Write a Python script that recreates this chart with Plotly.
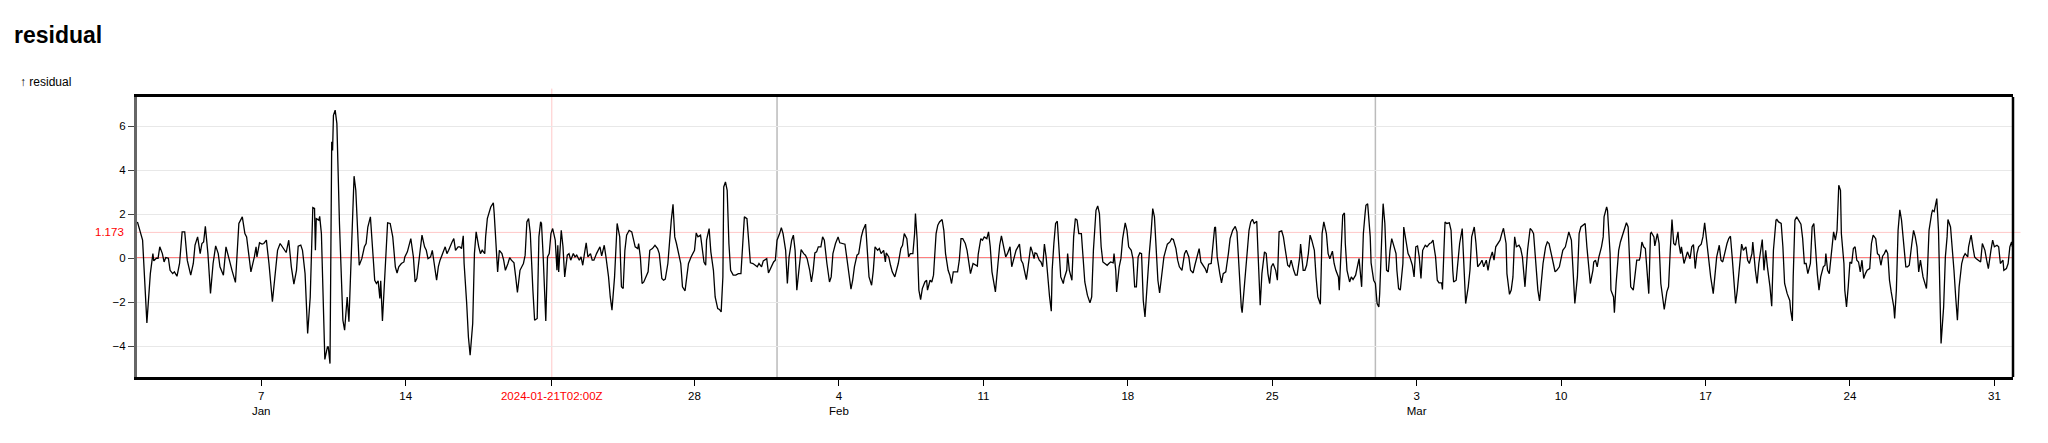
import pandas as pd
import plotly.graph_objects as go

START = pd.Timestamp("2024-01-01T00:00:00")

# (hours since START, residual), period by period
jan_early = [(0,1.65),(6,0.82),(11,-2.94),(15,-0.70),(18,0.21),(19,-0.12),(22,0.0),(24,0.0),(26,0.52),(29,0.21),
 (31,-0.17),(33,0.03),(36,0.0),(38,-0.55),(41,-0.70),(43,-0.62),(46,-0.82),(49,-0.24),(52,1.20),(55,1.20),
 (58,-0.10),(62,-0.77),(65,-0.24),(67,0.60),(70,0.97),(73,0.21),(75,0.67),(77,0.74),(79,1.45),(82,0.21),
 (85,-1.60),(88,-0.24),(91,0.56),(94,0.21),(96,-0.39),(100,-0.77),(103,0.52),(106,0.0),(110,-0.55),(114,-1.10),
 (118,1.58),(122,1.88),(125,1.12),(127,0.97),(129,0.36),(132,-0.62),(136,0.06),(138,0.52),(139,0.06),(142,0.70),
 (145,0.64),(147,0.67),(150,0.82),(153,-0.24),(157,-1.98),(160,-0.85),(163,0.36),(166,0.67),(170,0.44),(173,0.26),
 (176,0.82),(179,-0.39),(182,-1.18),(185,-0.55),(187,0.55),(190,0.60),(192,0.36),(195,-0.70),(198,-3.42),(201,-1.76),
 (204,2.30),(206,2.26),(207,0.36),(208,1.80),(211,1.73),(212,1.90),(214,1.12),(216,-2.06),(218,-4.60),(221,-4.03),
 (222,-4.03),(224,-4.79),(226,5.29),(227,4.90),(228,6.50),(230,6.73),(232,6.12),(235,1.58),(239,-2.82),(241,-3.27)]

jan_mid = [(244,-1.76),(246,-2.89),(249,0.36),(252,3.73),(254,3.09),(258,-0.32),(261,-0.02),(264,0.52),(266,0.67),
 (268,1.42),(271,1.88),(273,0.82),(276,-1.00),(278,-1.15),(280,-1.03),(282,-1.83),(283,-1.03),(285,-2.85),(288,-0.39),
 (291,1.61),(294,1.58),(297,0.97),(300,-0.39),(302,-0.67),(304,-0.39),(307,-0.24),(310,-0.17),(311,0.06),(314,0.29),
 (318,0.89),(321,0.06),(323,-1.08),(325,-0.92),(328,0.21),(331,1.05),(334,0.52),(336,0.36),(338,-0.02),(341,0.06),
 (343,0.36),(345,-0.24),(348,-1.00),(350,-0.39),(352,-0.09),(355,0.21),(358,0.52),(360,0.21),(362,0.36),(366,0.74),
 (368,0.89),(370,0.36),(373,0.52),(375,0.52),(377,0.44),(379,1.02),(380,-0.24),(383,-2.06),(385,-3.58),(387,-4.41),
 (390,-2.97),(392,0.21),(394,1.20),(397,0.52),(399,0.21),(401,0.36),(404,0.21),(405,0.97),(407,1.80),(411,2.33),
 (414,2.52),(415,2.03),(417,0.82),(419,-0.62),(421,0.36),(424,0.21),(426,-0.09),(428,-0.55),(431,-0.24),(433,0.03),
 (435,-0.09),(438,-0.21),(440,-0.85),(442,-1.56),(445,-0.55),(447,-0.39),(449,-0.24),(451,0.14),(453,1.65),(455,1.80),
 (457,1.12),(460,-1.45),(462,-2.82),(465,-2.74),(467,0.97),(469,1.65),(470,1.58),(472,0.06),(475,-2.85),(477,0.06),
 (479,0.21),(481,1.12),(483,1.35),(486,0.82),(488,-0.55)]

jan_late = [(489,0.59),(490,-0.62),(493,1.27),(495,0.52),(497,-0.85),(500,0.14),(502,0.21),(504,-0.09),(507,0.21),
 (509,0.06),(511,0.14),(514,-0.09),(516,0.06),(518,-0.32),(520,0.21),(522,0.70),(524,0.06),(527,0.21),(529,-0.09),
 (531,-0.09),(534,0.21),(536,0.39),(538,0.52),(540,0.11),(543,0.59),(545,0.06),(548,-0.85),(550,-1.76),(552,-2.36),
 (555,-0.85),(557,1.27),(558,1.58),(561,0.97),(563,-1.30),(565,-1.38),(567,0.36),(569,1.05),(572,1.27),(575,1.20),
 (577,0.89),(579,0.52),(582,0.44),(583,0.67),(585,0.06),(587,-1.15),(589,-1.08),(592,-0.77),(594,-0.62),(596,0.36),
 (599,0.44),(602,0.59),(605,0.44),(607,0.21),(610,-0.92),(612,-1.00),(614,-0.95),(617,-0.24),(619,0.82),(621,1.73),
 (623,2.45),(625,0.97),(627,0.67),(630,0.14),(632,-0.24),(634,-1.30),(637,-1.48),(639,-0.85),(641,-0.24),(644,0.06),
 (648,0.36),(650,1.15),(652,0.97),(655,1.05),(657,0.44),(659,-0.17),(661,-0.32),(662,0.82),(665,1.35),(667,0.29),
 (670,-0.55),(672,-1.76),(675,-2.29),(677,-2.33),(679,-2.44),(681,-0.85),(682,3.24),(684,3.47),(686,3.09),(688,0.67),
 (690,-0.55),(693,-0.77),(696,-0.77),(699,-0.70),(702,-0.70),(704,0.52),(706,1.88),(709,1.80),(711,0.82),(713,-0.21),
 (716,-0.24),(719,-0.32),(721,-0.39),(723,-0.24),(726,-0.39),(728,-0.12),(732,-0.02)]

feb_early = [(734,-0.67),(737,-0.39),(740,-0.17),(742,-0.09),(744,0.82),(747,1.12),(749,1.39),(751,1.12),(754,0.36),
 (756,-1.15),(758,0.06),(761,0.82),(763,1.05),(765,0.36),(767,-1.45),(769,-0.70),(772,0.39),(775,0.21),(777,0.14),
 (779,-0.02),(782,-0.55),(784,-1.08),(786,-0.55),(788,0.24),(790,0.29),(792,0.52),(795,0.52),(797,0.97),(799,0.82),
 (802,-0.24),(805,-1.08),(807,-0.85),(809,0.21),(812,0.67),(815,0.97),(817,0.70),(820,0.67),(823,0.64),(825,0.06),
 (827,-0.62),(830,-1.41),(832,-1.00),(834,-0.39),(837,0.14),(839,0.21),(842,0.97),(844,1.27),(847,1.55),(849,0.52),
 (851,-0.85),(854,-1.23),(856,-0.55),(858,0.52),(861,0.36),(863,0.44),(865,0.21),(868,0.36),(870,-0.17),(871,0.24),
 (874,0.06),(876,-0.32),(878,-0.62),(881,-0.85),(883,-0.55),(885,-0.24),(888,0.44),(890,0.59),(892,1.12),(895,0.89),
 (897,0.06),(899,0.21),(902,0.21),(904,1.12),(905,2.03),(907,0.82),(909,-1.45),(911,-1.88),(913,-1.38),(916,-1.08),
 (918,-1.00),(919,-1.45),(922,-1.00),(924,-1.08),(926,-0.77),(929,1.12),(931,1.50),(933,1.65),(936,1.76),(938,1.27),
 (940,0.21),(943,-0.55),(945,-0.77),(947,-1.15),(949,-0.62),(951,-0.62),(954,-0.62),(956,-0.09),(958,0.89),(960,0.89),
 (963,0.67),(965,0.36),(967,-0.09),(969,-0.70),(972,-0.24)]

feb_mid = [(977,-0.36),(978,0.18),(981,0.89),(983,0.82),(985,0.97),(988,0.89),(990,1.20),(992,0.52),(994,-0.62),
 (996,-1.08),(998,-1.53),(1001,-0.24),(1003,0.59),(1005,1.02),(1008,0.52),(1010,0.06),(1012,0.21),(1015,0.52),
 (1017,-0.39),(1019,-0.09),(1022,0.36),(1026,0.64),(1028,-0.09),(1030,-0.24),(1032,-0.55),(1034,-0.97),(1036,-0.39),
 (1039,0.52),(1041,0.29),(1043,-0.02),(1044,0.24),(1046,0.21),(1049,-0.09),(1051,-0.17),(1053,-0.39),(1055,0.64),
 (1057,0.06),(1060,-1.45),(1061,-1.76),(1063,-2.41),(1064,-0.55),(1066,0.67),(1068,1.58),(1070,1.68),(1073,-0.62),
 (1074,-0.85),(1077,-1.15),(1078,-0.92),(1081,-0.55),(1082,0.21),(1084,-0.55),(1087,-1.00),(1089,0.97),(1091,1.80),
 (1093,1.73),(1095,1.12),(1098,1.12),(1100,-0.09),(1102,-1.08),(1105,-1.68),(1108,-2.03),(1110,-1.76),(1112,0.36),
 (1115,2.18),(1117,2.38),(1119,2.03),(1121,0.52),(1123,-0.17),(1125,-0.24),(1128,-0.32),(1130,-0.24),(1132,-0.17),
 (1135,-0.21),(1136,0.21),(1138,-0.55),(1139,-1.53),(1142,-0.39),(1144,-0.02),(1146,0.89),(1149,1.61),(1151,1.27),
 (1153,0.52),(1156,0.36),(1158,-0.02),(1160,-1.30),(1162,-1.30),(1164,0.06),(1166,0.24),(1168,0.21),(1170,-1.92),
 (1172,-2.67),(1174,-1.30),(1177,0.21),(1179,1.12),(1181,2.26),(1183,1.88),(1185,0.36),(1187,-1.00),(1189,-1.58),
 (1191,-1.00),(1194,0.06),(1196,0.36),(1198,0.64),(1201,0.74),(1203,0.89),(1205,0.85),(1208,0.44),(1210,-0.09),
 (1212,-0.39),(1215,-0.55),(1216,-0.32),(1218,0.21),(1220,0.36)]

feb_late = [(1223,0.06),(1225,-0.55),(1228,-0.67),(1230,-0.32),(1232,-0.02),(1235,0.44),(1237,-0.17),(1239,-0.27),
 (1242,-0.47),(1244,-0.67),(1246,-0.27),(1249,-0.24),(1251,0.59),(1253,1.39),(1254,1.42),(1256,0.06),(1259,-0.70),
 (1261,-1.12),(1263,-0.70),(1266,-0.62),(1269,0.21),(1271,0.89),(1274,1.27),(1277,1.45),(1279,1.20),(1281,-0.39),
 (1284,-2.21),(1285,-2.48),(1287,-1.45),(1290,0.06),(1293,1.27),(1295,1.65),(1297,1.77),(1299,1.58),(1302,1.68),
 (1304,-0.24),(1306,-2.14),(1308,-0.70),(1311,0.29),(1313,0.21),(1315,-0.70),(1317,-1.15),(1319,-0.39),(1321,-0.24),
 (1324,-0.55),(1326,-1.00),(1328,1.20),(1331,1.24),(1333,0.97),(1335,0.44),(1338,-0.32),(1340,-0.39),(1342,-0.09),
 (1345,-0.55),(1347,-0.77),(1349,-0.77),(1352,0.06),(1353,0.64),(1356,-0.55),(1358,-0.55),(1360,-0.32),(1362,0.21),
 (1364,1.05),(1366,0.82),(1369,0.36),(1371,-0.85),(1373,-1.76),(1376,-2.09),(1378,1.12),(1380,1.65),(1383,1.12),
 (1385,0.21),(1387,-0.02),(1390,0.32),(1392,-0.24),(1394,-0.55),(1397,-0.85),(1398,-1.45),(1400,0.06),(1402,1.95),
 (1404,2.06),(1405,0.67),(1407,-0.55),(1410,-1.08),(1412,-0.85),(1414,-0.97),(1417,-0.77),(1419,-0.39),(1421,-0.02),
 (1424,-1.30),(1426,1.12),(1428,2.03),(1429,2.41),(1431,2.48),(1434,0.97),(1435,-0.21),(1438,-1.00),(1440,-1.15),
 (1442,-2.06),(1444,-2.21),(1445,-1.61),(1448,1.58),(1449,2.48),(1451,1.58),(1453,-0.55),(1455,-0.62),(1457,0.36),
 (1459,0.89),(1462,0.52),(1464,0.21)]

mar_early = [(1465,-0.55),(1467,-1.38),(1469,-1.45),(1472,-0.24),(1473,1.42),(1476,0.67),(1478,0.21),(1480,0.06),
 (1483,-0.32),(1485,-0.85),(1487,0.52),(1489,0.56),(1491,0.06),(1493,-0.92),(1495,0.36),(1498,0.59),(1500,0.52),
 (1503,0.67),(1505,0.70),(1507,0.82),(1510,0.06),(1512,-1.00),(1514,-1.12),(1517,-1.12),(1518,-1.42),(1521,1.65),
 (1523,1.58),(1526,1.61),(1528,1.27),(1530,-0.55),(1531,-1.08),(1534,-1.00),(1536,-0.09),(1538,0.67),(1541,1.35),
 (1543,-0.24),(1545,-2.06),(1548,-1.30),(1550,-0.55),(1552,0.97),(1555,1.42),(1557,0.67),(1559,-0.39),(1562,-0.24),
 (1564,-0.09),(1566,-0.39),(1569,-0.09),(1571,-0.55),(1573,-0.09),(1576,0.29),(1578,-0.09),(1580,0.52),(1583,0.74),
 (1585,0.82),(1587,1.12),(1589,1.36),(1592,0.67),(1593,-0.70),(1596,-1.64),(1598,-1.45),(1600,-0.85),(1602,0.97),
 (1604,0.52),(1607,0.59),(1609,0.44),(1611,0.06),(1614,-1.30),(1615,-0.67),(1617,0.36),(1620,1.35),(1622,1.27),
 (1624,1.12),(1627,-0.47),(1629,-1.45),(1631,-1.94),(1633,-1.00),(1635,-0.24),(1638,0.52),(1640,0.74),(1642,0.67),
 (1644,0.36),(1647,-0.24),(1649,-0.62),(1651,-0.55),(1654,-0.39),(1656,0.06),(1658,0.36),(1661,0.52),(1663,0.89),
 (1665,1.20),(1668,0.82),(1670,-0.85),(1672,-2.06),(1675,-0.85),(1677,1.12),(1679,1.42),(1682,1.50),(1684,1.58),
 (1686,0.52),(1689,-0.77),(1690,-1.15),(1693,-0.55),(1694,-0.17),(1696,-0.09),(1698,-0.39),(1700,0.06),(1703,0.52),
 (1705,0.97),(1706,1.88)]

mar_mid = [(1709,2.33),(1710,2.18),(1713,0.21),(1714,-1.45),(1717,-1.76),(1718,-2.48),(1720,-1.15),(1723,0.36),
 (1725,0.74),(1727,0.97),(1730,1.35),(1732,1.61),(1734,1.42),(1736,-0.39),(1737,-1.30),(1740,-1.45),(1742,-0.85),
 (1744,-0.09),(1747,-0.09),(1748,0.06),(1750,0.74),(1752,0.52),(1754,0.44),(1756,-0.55),(1758,-1.61),(1760,1.12),
 (1761,1.17),(1764,0.97),(1765,0.56),(1768,1.12),(1770,0.67),(1772,-1.15),(1775,-2.06),(1776,-2.33),(1779,-1.53),
 (1781,-1.30),(1783,0.36),(1785,1.76),(1787,0.67),(1789,0.59),(1792,1.20),(1793,0.67),(1795,0.21),(1796,0.52),
 (1799,-0.24),(1801,-0.02),(1803,0.29),(1806,-0.02),(1808,0.52),(1810,0.62),(1812,-0.47),(1814,0.21),(1816,0.52),
 (1819,0.64),(1821,0.97),(1823,1.61),(1826,0.52),(1828,0.06),(1830,-0.85),(1833,-1.61),(1835,-0.70),(1837,0.06),
 (1840,0.59),(1842,-0.09),(1844,-0.17),(1847,0.36),(1849,0.67),(1851,0.89),(1853,1.00),(1855,0.06),(1858,-1.61),
 (1859,-2.06),(1861,-1.45),(1864,-0.24),(1866,0.64),(1868,0.36),(1871,0.52),(1873,-0.09),(1875,-0.24),(1878,0.21),
 (1879,0.74),(1882,-0.55),(1884,-1.15),(1886,-0.24),(1888,0.36),(1890,0.85),(1892,-0.55),(1894,0.36),(1896,-0.39),
 (1899,-1.30),(1901,-2.18),(1903,0.36),(1906,1.73),(1907,1.76),(1909,1.65),(1912,1.58),(1914,0.52),(1916,-1.15),
 (1919,-1.61),(1922,-1.92),(1923,-2.36),(1925,-2.85),(1926,-0.85),(1928,1.73),(1930,1.88),(1933,1.65),(1935,1.55),
 (1937,0.89),(1939,-0.24),(1941,-0.24),(1943,-0.70),(1946,-0.24),(1948,1.42),(1950,1.58)]

mar_late = [(1951,0.97),(1954,-0.70),(1956,-1.45),(1958,-0.85),(1961,-0.39),(1963,-0.32),(1964,0.21),(1966,-0.55),
 (1968,-0.70),(1971,0.52),(1973,1.20),(1975,0.82),(1977,1.27),(1979,3.32),(1981,3.09),(1982,1.12),(1985,-0.24),
 (1986,-1.45),(1988,-2.21),(1990,-1.30),(1992,-0.17),(1994,-0.24),(1996,0.44),(1998,0.52),(2000,-0.09),(2002,-0.17),
 (2004,-0.62),(2006,-0.09),(2008,-0.92),(2010,-0.70),(2012,-0.55),(2015,-0.47),(2017,0.67),(2019,1.05),(2022,0.89),
 (2024,0.21),(2026,0.14),(2028,-0.32),(2030,0.09),(2032,0.21),(2034,0.39),(2036,0.21),(2038,-1.00),(2040,-1.53),
 (2043,-2.21),(2044,-2.74),(2046,-1.45),(2048,1.27),(2050,2.20),(2052,1.73),(2054,0.82),(2057,-0.39),(2059,-0.39),
 (2061,-0.32),(2064,0.67),(2066,1.27),(2068,0.97),(2070,0.52),(2072,-0.62),(2074,-0.09),(2077,-0.85),(2079,-1.15),
 (2081,-1.38),(2082,-0.70),(2084,1.27),(2087,2.03),(2088,2.18),(2090,2.12),(2092,2.48),(2093,2.71),(2095,1.27),
 (2096,-0.70),(2098,-3.88),(2101,-2.21),(2103,0.06),(2105,0.97),(2106,1.76),(2109,1.42),(2111,0.52),(2113,-0.55),
 (2115,-1.76),(2117,-2.82),(2119,-1.30),(2122,-0.24),(2124,0.06),(2126,0.21),(2129,0.06),(2130,0.52),(2132,0.89),
 (2133,1.05),(2135,0.52),(2137,0.06),(2139,-0.02),(2142,-0.09),(2144,-0.17),(2146,0.67),(2149,0.36),(2151,-0.09),
 (2153,-0.47),(2156,0.36),(2158,0.82),(2160,0.52),(2163,0.59),(2165,0.52),(2167,-0.24),(2170,-0.09),(2171,-0.55),
 (2174,-0.47),(2176,-0.24),(2178,0.52),(2180,0.74),(2181,0.52)]

THRESHOLD = 1.173
POINTER_TIME = "2024-01-21T02:00:00"
POINTER_LABEL = "2024-01-21T02:00Z"
MONTH_MARKS = ["2024-02-01", "2024-03-01"]
X_TICKS = ["2024-01-07", "2024-01-14", POINTER_TIME, "2024-01-28", "2024-02-04", "2024-02-11",
           "2024-02-18", "2024-02-25", "2024-03-03", "2024-03-10", "2024-03-17", "2024-03-24", "2024-03-31"]
X_TEXT = ["7<br>Jan", "14", "<span style='color:red'>" + POINTER_LABEL + "</span>", "28", "4<br>Feb", "11",
          "18", "25", "3<br>Mar", "10", "17", "24", "31"]
Y_TICKS = [-4, -2, 0, 2, 4, 6]

pts = jan_early + jan_mid + jan_late + feb_early + feb_mid + feb_late + mar_early + mar_mid + mar_late
xs = [START + pd.Timedelta(hours=h) for h, _ in pts]
ys = [v for _, v in pts]

FONT = "Liberation Sans, Arial, Helvetica, sans-serif"

# page body has a small margin, so the figure is sized to fit inside it
W, H = 2040, 435
ML, MR, MT, MB = 129, 35, 89, 66
PW, PH = W - ML - MR, H - MT - MB

fig = go.Figure()
fig.add_trace(go.Scatter(x=xs, y=ys, mode="lines", line=dict(color="black", width=1.3),
                         hoverinfo="skip", showlegend=False))

shapes = []
shapes.append(dict(type="line", xref="paper", x0=0, x1=1, yref="y", y0=0, y1=0,
                   line=dict(color="red", width=1.5), layer="between"))
shapes.append(dict(type="line", xref="paper", x0=0, x1=1.004, yref="y", y0=THRESHOLD, y1=THRESHOLD,
                   line=dict(color="rgba(255,0,0,0.22)", width=1), layer="between"))
shapes.append(dict(type="line", xref="x", x0=POINTER_TIME, x1=POINTER_TIME, yref="paper", y0=0, y1=1.03,
                   line=dict(color="rgba(255,0,0,0.22)", width=1), layer="between"))
for m in MONTH_MARKS:
    shapes.append(dict(type="line", xref="x", x0=m, x1=m, yref="paper", y0=0, y1=1,
                       line=dict(color="#bbbbbb", width=1.5), layer="between"))
shapes.append(dict(type="line", xref="paper", x0=1, x1=1, yref="paper", y0=0, y1=1,
                   line=dict(color="black", width=2.5), layer="above"))

fig.update_layout(
    width=W, height=H,
    margin=dict(l=ML, r=MR, t=MT, b=MB),
    paper_bgcolor="white", plot_bgcolor="white",
    font=dict(family=FONT, size=11.5, color="black"),
    title=dict(text="<b>residual</b>", x=6 / W, xanchor="left", xref="container",
               y=1 - 27 / H, yanchor="middle", yref="container",
               font=dict(family=FONT, size=23, color="black")),
    shapes=shapes,
    annotations=[
        dict(text="↑ residual", xref="paper", yref="paper", x=-119 / PW, y=1 + 15 / PH,
             xanchor="left", yanchor="middle", showarrow=False, font=dict(family=FONT, size=12, color="black")),
        dict(text=f"{THRESHOLD:.3f}", xref="paper", yref="y", x=0, y=THRESHOLD, xshift=-11,
             xanchor="right", yanchor="middle", showarrow=False, font=dict(family=FONT, size=11.5, color="red")),
    ],
    xaxis=dict(type="date", range=["2023-12-31T23:30:00", "2024-03-31T21:40:00"],
               tickmode="array", tickvals=X_TICKS, ticktext=X_TEXT,
               showgrid=False, zeroline=False, ticks="outside", ticklen=6, tickcolor="black",
               showline=True, mirror=True, linecolor="black", linewidth=2.5,
               tickfont=dict(family=FONT, size=11.5, color="black")),
    yaxis=dict(range=[-5.40, 7.33], tickmode="array", tickvals=Y_TICKS,
               showgrid=True, gridcolor="#e8e8e8", gridwidth=1, zeroline=False,
               ticks="outside", ticklen=6, tickcolor="#444",
               showline=True, linecolor="#666666", linewidth=3,
               tickfont=dict(family=FONT, size=11.5, color="black")),
)

fig.write_html("out.html")
